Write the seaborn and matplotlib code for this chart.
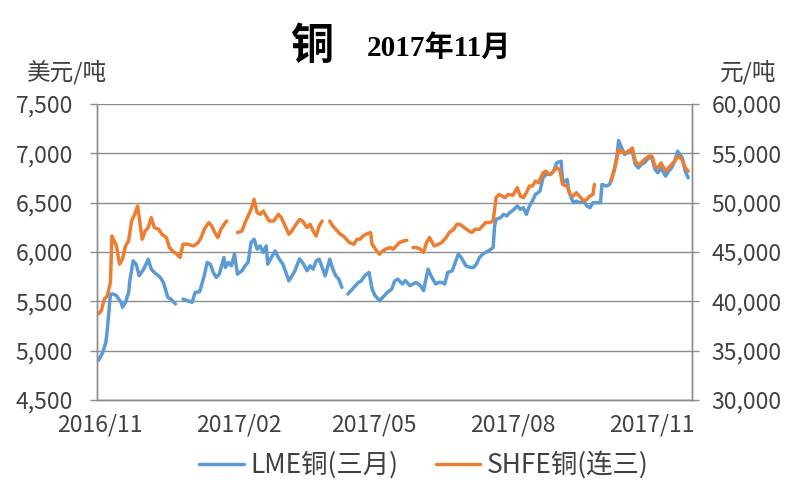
import pandas as pd
import numpy as np
import seaborn as sns
import matplotlib.pyplot as plt
import matplotlib.dates as mdates
from matplotlib.lines import Line2D
from matplotlib.ticker import MultipleLocator, FuncFormatter

# days counted from 2016-11-01, NaN = gap in the series
lme_days = [-1, 2, 4, 5, 7, 9, 11, 14, 15, 17, 19, 20, 22, 24, 26, 29, 32, 34, 36, 40, 42, 45, 47, 50,
            52, 55, 58, 61, 63, 66, 69, 71, 73, 75, 77, 79, 82, 83, 85, 87, 89, 91, 94, 96, 98, 100,
            102, 104, 106, 108, 110, 111, 114, 116, 118, 121, 123, 125, 127, 129, 132, 134, 137, 139,
            141, 143, 145, 147, 149, 152, 154, 156, 158, 160, 162, 164, 166, 169, 171, 173, 175, 178,
            180, 182, 185, 187, 190, 193, 195, 197, 200, 202, 205, 209, 212, 214, 217, 219, 222, 224,
            226, 228, 230, 233, 235, 237, 239, 242, 245, 247, 249, 251, 253, 255, 257, 260, 261, 262,
            265, 267, 269, 271, 273, 276, 278, 280, 282, 284, 286, 288, 291, 293, 295, 298, 300, 302,
            305, 306, 309, 310, 313, 315, 317, 320, 322, 324, 326, 328, 331, 332, 335, 337, 340, 342,
            343, 345, 347, 349, 352, 354, 356, 358, 360, 363, 365, 367, 369, 371, 374, 376, 378, 380,
            382, 385, 387, 389]
lme = [4900, 4985, 5086, 5220, 5574, 5574, 5557, 5490, 5440, 5490, 5590, 5725, 5910, 5877, 5760, 5826,
       5927, 5826, 5793, 5742, 5692, 5540, 5523, 5473,
       np.nan, 5523, 5506, 5490, 5590, 5597, 5758, 5894, 5877, 5793, 5742, 5776, 5944, 5843, 5894, 5860,
       5978, 5776, 5810, 5860, 5894, 6096, 6130, 6029, 6062, 5995, 6062, 5877, 5961, 6011, 5944, 5877,
       5793, 5708, 5758, 5810, 5930, 5894, 5810, 5860, 5826, 5910, 5927, 5843, 5758, 5927, 5826, 5758,
       5725, 5641, np.nan, 5574, 5608, 5658, 5692, 5708, 5758, 5793, 5624, 5557, 5506, 5540, 5590, 5624,
       5708, 5725, 5675, 5710, 5658, 5692, 5658, 5608, 5826, 5758, 5675, 5692, 5692, 5675, 5793, 5810,
       5894, 5978, 5944, 5860, 5843, 5843, 5877, 5944, 5978, 5995, 6011, 6045, 6264, 6332, 6349, 6382,
       6365, 6400, 6420, 6466, 6432, 6449, 6382, 6466, 6516, 6584, 6617, 6752, 6786, 6786, 6819, 6904,
       6920, 6702, 6735, 6617, 6500, 6516, 6500, 6516, 6466, 6449, 6500, 6500, 6500, 6685, 6668, 6685,
       6819, 6988, 7130, 7056, 6988, 7021, 7021, 6887, 6853, 6887, 6904, 6955, 6955, 6836, 6803, 6853,
       6769, 6819, 6853, 6920, 7021, 6955, 6819, 6752]

shfe_days = [-1, 1, 3, 5, 7, 8, 11, 13, 15, 17, 19, 21, 23, 25, 28, 30, 32, 34, 36, 39, 41, 44, 46, 48,
             51, 53, 55, 58, 62, 65, 67, 69, 72, 74, 76, 78, 80, 83, 84, 88, 91, 94, 96, 98, 100, 102,
             104, 106, 108, 110, 112, 115, 118, 120, 122, 125, 127, 129, 132, 134, 137, 139, 141, 143,
             145, 147, 149, 152, 154, 157, 159, 161, 163, 165, 168, 170, 172, 174, 176, 179, 180, 183,
             185, 187, 189, 192, 194, 196, 198, 201, 203, 205, 207, 209, 212, 214, 216, 218, 221, 224,
             226, 229, 231, 234, 236, 238, 241, 244, 246, 248, 251, 253, 255, 258, 260, 262, 264, 266,
             268, 270, 273, 276, 278, 280, 282, 284, 286, 288, 290, 293, 295, 297, 299, 302, 304, 306,
             309, 311, 313, 315, 317, 320, 322, 324, 326, 327, 330, 338, 341, 343, 345, 347, 349, 352,
             354, 356, 358, 360, 363, 365, 367, 369, 371, 374, 376, 378, 380, 382, 385, 387, 389]
shfe = [38717, 39050, 40232, 40566, 41919, 46626, 45616, 43768, 44273, 45616, 46121, 48141, 48818,
        49657, 46293, 47131, 47474, 48485, 47474, 47303, 46798, 46465, 45455, 45111, 44778, 44444,
        45788, 45788, 45616, 45950, 46465, 47303, 47980, 47636, 46970, 46465, 47303, 47980, 48141,
        np.nan, 46970, 47131, 47980, 48646, 49320, 50333, 48990, 48818, 49150, 48646, 48141, 48141,
        48818, 48485, 47808, 46798, 47131, 47636, 48300, 48141, 47474, 47808, 47131, 46626, 47636,
        48141, np.nan, 48141, 47636, 47131, 46798, 46626, 46293, 45960, 45788, 46293, 46293, 46626,
        46798, 46970, 45788, 45111, 44778, 45111, 45283, 45455, 45283, 45616, 45960, 46121, 46190,
        np.nan, 45455, 45455, 45283, 44949, 45960, 46465, 45616, 45788, 45960, 46465, 46970, 47303,
        47808, 47808, 47474, 47131, 46970, 47303, 47303, 47636, 47980, 47980, 48141, 50505, 50838,
        50667, 50505, 50838, 50750, 51515, 50667, 50505, 51010, 51684, 51684, 52184, 52020, 53030,
        53190, 52860, 53030, 53535, 53360, 51850, 51680, 50840, 50667, 51010, 50667, 50160, 50330,
        50667, 50838, 51850, np.nan, 52180, 53870, 55380, 55210, 55050, 55050, 55550, 54200, 53870,
        54040, 54370, 54710, 54710, 53700, 53530, 54040, 53190, 53530, 53870, 54200, 54710, 54370,
        53530, 53190]

tick_dates = ['2016-11-01', '2017-02-01', '2017-05-01', '2017-08-01', '2017-11-01']
series_names = ['LME铜(三月)', 'SHFE铜(连三)']
colors = ['#5B9BD5', '#ED7D31']

start = pd.Timestamp('2016-11-01')


def make_frame(days, values):
    d = pd.DataFrame({'date': start + pd.to_timedelta(days, unit='D'), 'price': values})
    d['seg'] = d['price'].isna().cumsum()
    return d.dropna()


df_lme = make_frame(lme_days, lme)
df_shfe = make_frame(shfe_days, shfe)

sns.set_theme(style='white')
plt.rcParams['font.family'] = ['Noto Sans CJK SC', 'DejaVu Sans']

fig, ax = plt.subplots(figsize=(8, 5), dpi=100)
fig.subplots_adjust(left=0.121, right=0.865, top=0.792, bottom=0.2)
ax2 = ax.twinx()

sns.lineplot(data=df_lme, x='date', y='price', units='seg', estimator=None,
             color=colors[0], linewidth=2.5, ax=ax)
sns.lineplot(data=df_shfe, x='date', y='price', units='seg', estimator=None,
             color=colors[1], linewidth=2.5, ax=ax2)

ax.set_xlim(start - pd.Timedelta(days=2), start + pd.Timedelta(days=391.5))
ax.set_ylim(4500, 7500)
ax2.set_ylim(30000, 60000)
ax.yaxis.set_major_locator(MultipleLocator(500))
ax2.yaxis.set_major_locator(MultipleLocator(5000))
fmt = FuncFormatter(lambda v, p: f'{v:,.0f}')
ax.yaxis.set_major_formatter(fmt)
ax2.yaxis.set_major_formatter(fmt)

ax.set_xticks(pd.to_datetime(tick_dates))
ax.xaxis.set_major_formatter(mdates.DateFormatter('%Y/%m'))

ax.grid(axis='y', color='#8c8c8c', linewidth=1)
ax.set_xlabel('')
ax.set_ylabel('')
ax2.set_ylabel('')

for a in (ax, ax2):
    for s in a.spines.values():
        s.set_color('#8c8c8c')
        s.set_linewidth(1)
    a.spines['top'].set_visible(False)
    a.tick_params(axis='both', colors='#8c8c8c', length=5, width=1, labelsize=16.5,
                  labelcolor='#404040')
ax.tick_params(axis='y', pad=12)
ax2.tick_params(axis='y', pad=9)
ax.tick_params(axis='x', pad=5)

fig.text(0.034, 0.856, '美元/吨', fontsize=17, color='#404040', va='center')
fig.text(0.970, 0.856, '元/吨', fontsize=17, color='#404040', va='center', ha='right')
fig.text(0.389, 0.908, '铜', fontsize=31, fontweight='bold', ha='center', va='center',
         color='black')
fig.text(0.549, 0.904, '2017年11月', fontsize=21, fontweight='bold', ha='center', va='center',
         color='black', family=['Liberation Serif', 'Noto Sans CJK SC'])

handles = [Line2D([], [], color=c, linewidth=2.5) for c in colors]
fig.legend(handles, series_names, loc='center', bbox_to_anchor=(0.53, 0.07), ncol=2,
           frameon=False, fontsize=19, handlelength=1.7, handletextpad=0.25, columnspacing=1.4,
           labelcolor='#404040')

fig.savefig('out.png', dpi=100)
